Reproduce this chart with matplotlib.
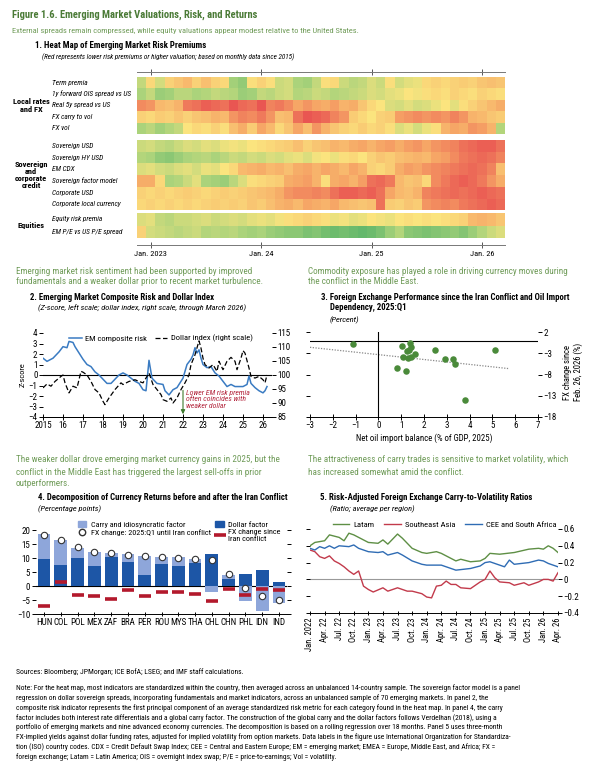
import numpy as np
import matplotlib
matplotlib.use('Agg')
import matplotlib.pyplot as plt
from matplotlib import font_manager as fm
from matplotlib.colors import LinearSegmentedColormap
from matplotlib.lines import Line2D
from matplotlib.patches import Patch

#%% data

# panel 1: heat map, monthly Dec 2022 .. Mar 2026 (40 months); + = red, - = green
hm_start_year, hm_start_month, hm_n = 2022, 12, 40
hm_tick_labels = ['Jan. 2023', 'Jan. 24', 'Jan. 25', 'Jan. 26']

term_premia = [-0.7, 0.2, -0.5, 0.3, 0.5, 0.7, 0.3, 0.6, 0.3, 0.2, -1.1, -1.3, 0.1, 0.3, 0.1, -0.6, -0.5, -1.0, -1.1, -0.7,
               0.1, 0.2, -0.6, -0.8, -0.7, -0.4, -0.6, 0.1, -0.5, -0.3, -0.2, 0.2, 0.3, 0.2, 0.3, 0.4, 0.3, 0.5, 0.6, 0.5]
ois_spread = [-1.0, -0.7, -1.2, -1.1, -0.8, -0.8, -1.0, -0.9, -0.7, -0.8, -0.9, -1.2, -1.1, -0.7, -0.8, -0.6, -0.5, -0.9, -0.8, -0.6,
              -0.7, -0.9, -0.8, -0.7, -0.6, -0.4, -0.5, -0.3, -0.2, 0.0, -0.1, 0.1, 0.2, 0.1, 0.3, 0.2, 0.1, 0.3, 0.2, 0.1]
real_5y = [1.3, 1.2, 0.7, 0.6, 0.8, 1.5, 1.6, 1.8, 1.7, 1.6, 1.9, 1.7, 1.6, 1.9, 1.4, 1.5, 1.3, 1.0, 1.2, 1.0,
           0.9, 1.1, 0.8, 0.9, 0.5, 0.2, 0.0, -0.4, -0.5, -0.3, -0.5, -0.4, -0.2, 0.0, -0.3, 0.1, 0.3, 0.5, 0.7, 0.9]
fx_carry_vol = [0.3, 0.2, 0.4, 0.3, 0.5, 0.3, 0.5, 0.6, 0.8, 0.7, 1.2, 1.4, 1.3, 1.5, 1.2, 0.6, 0.7, 1.6, 1.9, 1.8,
                1.7, 1.4, 1.2, 0.4, 0.2, 0.0, 0.3, 0.4, 1.1, 1.2, 1.3, 1.2, 1.3, 1.2, 1.4, 1.2, 0.8, 0.7, 0.5, 0.4]
fx_vol = [-1.0, -0.8, -1.1, -0.9, -0.7, 0.0, 0.2, 0.1, 0.3, 0.1, 0.6, 0.9, 0.4, 1.0, 0.7, 0.2, 0.5, 1.0, 0.6, 1.2,
          0.8, 0.5, 0.3, 0.2, 0.4, 0.2, 0.3, 0.1, -0.4, -0.2, -0.5, -0.2, 0.1, 0.8, 1.0, 0.9, 1.2, 1.1, 0.8, -0.9]
sov_usd = [-0.6, -0.5, -0.7, -0.8, -0.6, -0.4, -0.5, -0.3, -0.4, -0.2, -0.1, -0.2, 0.0, 0.1, 0.2, 0.3, 0.4, 0.6, 0.3, 0.5,
           0.6, 0.8, 0.7, 0.9, 1.0, 0.8, 1.0, 1.1, 0.9, 1.1, 1.2, 1.0, 1.2, 1.3, 1.4, 1.6, 1.7, 1.8, 1.8, 1.6]
sov_hy = [-0.9, -1.0, -1.3, -1.4, -1.2, -1.0, -0.9, -0.8, -1.0, -0.8, -0.6, -0.7, -0.5, -0.6, -0.4, -0.5, -0.3, -0.2, -0.4, -0.1,
          0.0, -0.2, 0.1, 0.2, 0.0, 0.3, 0.5, 0.4, 0.6, 0.7, 0.8, 0.7, 1.0, 1.1, 1.3, 1.5, 1.6, 1.7, 1.6, 1.4]
em_cdx = [-0.4, -0.3, -0.5, -0.6, -0.4, -0.3, -0.5, -0.2, -0.3, 0.0, 0.2, 0.7, 0.8, 0.9, 0.7, 0.8, 0.6, 0.9, 1.0, 0.8,
          1.0, 0.9, 0.7, 1.0, 0.8, 0.3, 0.2, 0.4, 0.9, 1.1, 1.0, 1.2, 1.3, 1.4, 1.5, 1.6, 1.7, 1.6, 1.4, 0.6]
sov_factor = [0.9, 0.9, 0.2, -1.0, -0.9, -0.6, -0.3, -1.0, -1.1, -1.2, -0.8, -0.4, 0.1, 0.2, 0.3, 0.4, 0.9, 1.0, 1.1, 0.8,
              0.1, 0.9, 1.0, 0.8, 1.1, 1.6, 1.7, 1.5, 0.7, 0.5, 0.6, 0.2, 1.3, 1.5, 1.7, 1.8, 1.7, 1.5, 1.2, 0.9]
corp_usd = [0.3, 0.2, 0.3, 0.2, 0.3, 0.4, 0.3, 0.2, 0.3, 0.4, 0.3, 0.4, 0.5, 0.6, 0.7, 0.9, 1.2, 1.3, 1.3, 1.4,
            1.3, 1.6, 1.8, 1.8, 1.7, 1.8, 1.6, 1.0, 0.7, 0.6, 0.8, 1.4, 1.5, 1.6, 1.7, 1.6, 1.7, 1.8, 1.7, 1.6]
corp_local = [0.2, 0.3, 0.2, 0.3, 0.2, 0.3, 0.2, 0.3, 0.4, 0.3, 0.4, 0.3, 0.5, 0.4, 0.6, 0.8, 0.9, 0.7, 1.0, 0.9,
              0.8, 1.0, 0.7, 0.6, 0.5, 0.6, 1.6, 0.4, 0.3, 0.5, 0.4, 1.2, 1.3, 1.4, 1.3, 1.5, 1.6, 1.7, 1.8, 1.7]
equity_rp = [-0.4, -0.3, -0.7, -0.8, -0.6, -0.6, -0.5, -0.4, -0.6, -0.5, -0.4, -0.5, -0.3, -0.2, -0.3, -0.1, 0.1, 0.2, 0.3, 0.2,
             0.1, -0.2, -0.1, -0.3, -0.2, 0.0, -0.1, -0.2, 0.0, 0.1, 0.0, 0.1, 0.0, 0.1, 0.2, 0.3, 0.7, 0.8, 0.7, 0.5]
pe_spread = [0.3, -0.5, -0.6, -0.7, -0.8, -0.7, -0.6, -0.9, -0.8, -0.9, -0.8, -1.0, -1.1, -1.0, -1.2, -1.3, -1.4, -1.4, -1.6, -1.5,
             -1.7, -1.8, -1.7, -1.8, -1.9, -1.8, -1.6, -1.2, -0.9, -1.4, -1.5, -1.6, -1.5, -1.4, -1.3, -1.5, -1.2, -0.9, -0.6, -0.4]

grp_local = ['Term premia', '1y forward OIS spread vs US', 'Real 5y spread vs US', 'FX carry to vol', 'FX vol']
grp_credit = ['Sovereign USD', 'Sovereign HY USD', 'EM CDX', 'Sovereign factor model', 'Corporate USD',
              'Corporate local currency']
grp_equity = ['Equity risk premia', 'EM P/E vs US P/E spread']

# panel 2
em_year = [2015.0, 2015.2, 2015.5, 2015.8, 2016.0, 2016.2, 2016.3, 2016.5, 2016.6, 2016.8,
           2017.0, 2017.2, 2017.4, 2017.6, 2017.8, 2018.0, 2018.2, 2018.4, 2018.6, 2018.8,
           2019.0, 2019.2, 2019.4, 2019.6, 2019.8, 2020.0, 2020.15, 2020.3, 2020.45, 2020.7,
           2021.0, 2021.1, 2021.3, 2021.5, 2021.7, 2022.0, 2022.2, 2022.4, 2022.5, 2022.6, 2022.7, 2022.8, 2022.9,
           2023.0, 2023.2, 2023.4, 2023.6, 2023.8, 2024.0, 2024.2, 2024.4, 2024.6, 2024.8,
           2025.0, 2025.2, 2025.3, 2025.4, 2025.6, 2025.8, 2026.0, 2026.1, 2026.2]
em_risk = [1.6, 1.3, 1.6, 2.2, 2.7, 2.6, 3.2, 3.1, 2.7, 2.1,
           1.5, 1.0, 0.8, 0.3, 0.0, -0.4, -0.8, -0.8, -0.4, 0.0,
           0.2, 0.0, -0.3, -0.6, -0.8, -1.4, -1.5, 1.4, -0.3, -0.8,
           -0.9, -1.5, -1.9, -1.4, -1.2, -0.3, 1.0, 1.5, 1.9, 2.6, 2.1, 2.4, 1.6,
           1.0, 0.7, 0.8, 0.2, -0.1, -0.6, -1.1, -0.9, -1.1, -1.1,
           -1.1, -0.9, -0.1, -0.8, -1.2, -1.5, -1.7, -1.5, -1.1]
dollar_year = [2015.0, 2015.2, 2015.4, 2015.6, 2015.9, 2016.0, 2016.1, 2016.3, 2016.5, 2016.7, 2016.9,
               2017.0, 2017.2, 2017.4, 2017.6, 2017.8, 2018.0, 2018.1, 2018.3, 2018.6, 2018.9,
               2019.0, 2019.3, 2019.6, 2019.8, 2020.0, 2020.2, 2020.3, 2020.5, 2020.7, 2020.9,
               2021.0, 2021.2, 2021.4, 2021.5, 2021.7, 2021.9, 2022.1, 2022.3, 2022.4, 2022.6, 2022.8, 2022.9,
               2023.0, 2023.1, 2023.3, 2023.5, 2023.7, 2023.8, 2024.0, 2024.2, 2024.4, 2024.6, 2024.7, 2024.9,
               2025.0, 2025.1, 2025.3, 2025.4, 2025.6, 2025.8, 2026.0, 2026.1, 2026.2]
dollar_index = [95.4, 96.8, 96.0, 97.7, 99.5, 100.0, 97.2, 93.6, 96.0, 95.4, 101.3,
                101.0, 100.0, 97.7, 94.8, 93.6, 90.6, 89.4, 91.8, 94.8, 97.2,
                96.6, 97.7, 98.3, 97.7, 97.2, 99.5, 100.7, 96.6, 94.8, 93.0,
                91.2, 90.6, 91.8, 90.0, 91.8, 94.8, 97.2, 100.0, 103.7, 107.2, 112.2, 109.6,
                106.0, 103.7, 102.5, 103.7, 101.3, 104.9, 101.9, 104.9, 106.3, 104.9, 101.9, 106.0,
                108.7, 107.8, 102.5, 99.5, 98.9, 99.5, 98.3, 97.2, 100.0]

# panel 3
oil_balance = [-1.1, 1.05, 1.4, 1.45, 1.35, 1.25, 1.1, 1.3, 1.45, 1.6, 0.8, 1.2, 2.5, 2.9, 3.25, 3.35, 5.1, 3.8]
fx_since_conflict = [-0.9, -1.2, -0.6, -1.6, -2.2, -2.5, -3.8, -4.2, -3.9, -3.2, -6.4, -7.1, -2.2, -4.4, -4.4, -5.6, -2.3, -14.0]
trend_x = [-3.0, 5.7]
trend_y = [-1.6, -6.6]

# panel 4
countries = ['HUN', 'COL', 'POL', 'MEX', 'ZAF', 'BRA', 'PER', 'ROU', 'MYS', 'THA', 'CHL', 'CHN', 'PHL', 'IDN', 'IND']
dollar_factor = [9.7, 7.5, 9.9, 7.0, 10.2, 8.7, 4.0, 7.8, 7.0, 8.3, 11.5, 2.5, 4.3, 5.8, 1.3]
carry_factor = [8.8, 8.9, 3.8, 5.3, 1.5, 2.9, 6.7, 2.7, 3.2, 1.3, -2.3, 1.3, -5.2, -9.1, -6.2]
fx_before = [18.3, 16.3, 14.0, 12.2, 11.8, 11.2, 10.6, 10.4, 10.0, 9.7, 9.2, 4.2, -0.8, -3.4, -4.9]
fx_after = [-7.3, 1.3, -3.2, -3.4, -4.5, -1.6, -3.7, -2.0, -2.0, -2.9, -5.5, -1.0, -3.2, -1.0, -1.5]

# panel 5 (months since Jan. 2022)
latam_m = [0, 1, 3, 4, 6, 7, 8, 9, 12, 14, 15, 16, 18, 19, 21, 23, 24, 26, 27, 29, 30, 31, 33, 35, 36, 37, 39, 42, 45, 47,
           48, 49, 50, 51]
latam = [0.40, 0.44, 0.46, 0.53, 0.50, 0.46, 0.55, 0.53, 0.44, 0.43, 0.47, 0.42, 0.54, 0.49, 0.37, 0.32, 0.31, 0.33, 0.31,
         0.25, 0.22, 0.24, 0.21, 0.22, 0.25, 0.31, 0.30, 0.32, 0.36, 0.37, 0.36, 0.40, 0.37, 0.32]
sea_m = [0, 1, 2, 3, 4, 5, 6, 7, 8, 9, 10, 11, 12, 13, 15, 16, 17, 18, 20, 21, 23, 24, 25, 26, 27, 28, 29, 30, 31, 33, 34,
         35, 36, 37, 38, 39, 41, 42, 44, 45, 47, 48, 49, 50, 51]
sea = [0.35, 0.33, 0.27, 0.25, 0.28, 0.22, 0.19, 0.15, 0.10, 0.06, 0.10, -0.08, -0.12, -0.15, -0.10, -0.14, -0.12, -0.10,
       -0.14, -0.14, -0.17, -0.21, -0.22, -0.08, -0.07, -0.02, -0.06, -0.06, -0.10, -0.11, -0.07, -0.03, 0.00, 0.10, 0.02,
       -0.03, -0.04, -0.07, -0.04, -0.07, -0.03, 0.00, 0.00, -0.02, 0.08]
cee_m = [0, 1, 2, 3, 4, 5, 6, 8, 9, 10, 12, 14, 15, 16, 18, 19, 21, 23, 24, 27, 29, 30, 33, 35, 36, 37, 39, 40, 41, 42, 45,
         47, 48, 49, 50, 51]
cee = [0.37, 0.35, 0.39, 0.37, 0.40, 0.37, 0.40, 0.39, 0.41, 0.37, 0.33, 0.32, 0.33, 0.29, 0.32, 0.29, 0.22, 0.18, 0.17,
       0.17, 0.13, 0.11, 0.13, 0.16, 0.20, 0.21, 0.17, 0.15, 0.23, 0.18, 0.20, 0.23, 0.22, 0.19, 0.17, 0.15]
p5_tick_labels = ['Jan. 2022', 'Apr. 22', 'Jul. 22', 'Oct. 22', 'Jan. 23', 'Apr. 23', 'Jul. 23', 'Oct. 23', 'Jan. 24',
                  'Apr. 24', 'Jul. 24', 'Oct. 24', 'Jan. 25', 'Apr. 25', 'Jul. 25', 'Oct. 25', 'Jan. 26', 'Apr. 26']

#%% fonts / style

FONT, STRETCH = 'Liberation Sans', 'normal'
ttf = fm.fontManager.ttflist
pref = ['Roboto Condensed', 'Liberation Sans Narrow', 'Open Sans Condensed', 'Noto Sans Condensed']
found = [n for n in pref if any(f.name == n for f in ttf)]
if found:
    FONT = found[0]
else:
    cond = [f.name for f in ttf if str(f.stretch) in ('condensed', 'semi-condensed')]
    if cond:
        FONT, STRETCH = cond[0], 'condensed'

plt.rcParams.update({'font.family': [FONT, 'DejaVu Sans'], 'font.stretch': STRETCH,
                     'axes.linewidth': 0.7, 'xtick.major.width': 0.7, 'ytick.major.width': 0.7})

W, H = 602, 771
GREEN_T = '#4b7b37'
GREEN_S = '#6f9b58'
TITLE_FS = 6.3     # panel titles
SUB_FS = 6.0       # panel italic subtitles
LEAD_FS = 6.6      # green lead-in sentences
fig = plt.figure(figsize=(W / 100, H / 100), dpi=100)


def rect(x0, y0, x1, y1):
    return [x0 / W, 1 - y1 / H, (x1 - x0) / W, (y1 - y0) / H]


def ftxt(x, y, s, **kw):
    kw.setdefault('va', 'center')
    fig.text(x / W, 1 - y / H, s, **kw)


ftxt(12, 15, 'Figure 1.6. Emerging Market Valuations, Risk, and Returns', fontsize=7.6, weight='bold', color=GREEN_T)
ftxt(12, 31, 'External spreads remain compressed, while equity valuations appear modest relative to the United States.',
     fontsize=6.0, color=GREEN_S)

#%% panel 1 heat map

ftxt(35, 46, '1. Heat Map of Emerging Market Risk Premiums', fontsize=6.4, weight='bold')
ftxt(42, 57, '(Red represents lower risk premiums or higher valuation; based on monthly data since 2015)',
     fontsize=5.1, style='italic')

cmap = LinearSegmentedColormap.from_list('hm', ['#5db56a', '#abd37b', '#fbe47e', '#f6a766', '#e84e50'])
ax1 = fig.add_axes(rect(137, 72, 505, 245))
ax1.set_xlim(0, hm_n)
ax1.set_ylim(245, 72)
xe = np.arange(hm_n + 1)
groups = [([term_premia, ois_spread, real_5y, fx_carry_vol, fx_vol], grp_local, 77, 11.4, 'Local rates\nand FX'),
          ([sov_usd, sov_hy, em_cdx, sov_factor, corp_usd, corp_local], grp_credit, 140, 11.7,
           'Sovereign\nand\ncorporate\ncredit'),
          ([equity_rp, pe_spread], grp_equity, 213, 12.5, 'Equities')]
for rows, names, top, h, glabel in groups:
    ye = top + h * np.arange(len(rows) + 1)
    ax1.pcolormesh(xe, ye, np.array(rows), cmap=cmap, vmin=-2, vmax=2, shading='flat')
    for i, nm in enumerate(names):
        ftxt(52, top + h * (i + 0.5), nm, fontsize=5.3, style='italic')
    ftxt(31, top + h * len(rows) / 2, glabel, fontsize=6, weight='bold', ha='center', linespacing=1.0)

months = (hm_start_month - 1 + np.arange(hm_n)) % 12 + 1
jan_pos = np.where(months == 1)[0] + 0.5
ax1.set_xticks(jan_pos)
ax1.set_xticklabels(hm_tick_labels, fontsize=6)
ax1.set_yticks([])
ax1.tick_params(axis='x', top=True, direction='inout', length=4, color='#555555', pad=2)
for s in ['left', 'right']:
    ax1.spines[s].set_visible(False)
for s in ['top', 'bottom']:
    ax1.spines[s].set_color('#777777')

#%% panel 2

ftxt(16, 271, 'Emerging market risk sentiment had been supported by improved', fontsize=LEAD_FS, color=GREEN_S)
ftxt(16, 282, 'fundamentals and a weaker dollar prior to recent market turbulence.', fontsize=LEAD_FS, color=GREEN_S)
ftxt(30, 297, '2. Emerging Market Composite Risk and Dollar Index', fontsize=TITLE_FS, weight='bold')
ftxt(38, 308, '(Z-score, left scale; dollar index, right scale, through March 2026)', fontsize=SUB_FS, style='italic')

ax2 = fig.add_axes(rect(43, 333, 272, 417))
ax2.plot(em_year, em_risk, color='#3a7bc2', lw=1.1, zorder=3)
ax2.axhline(0, color='black', lw=0.8)
ax2.set_xlim(2015, 2026.45)
ax2.set_ylim(-4, 4)
ax2.set_yticks(range(-4, 5))
ax2.set_xticks(range(2015, 2027))
ax2.set_xticklabels(['2015'] + [str(y)[2:] for y in range(2016, 2027)], fontsize=6.5)
ax2.tick_params(axis='y', direction='out', length=3, labelsize=6.5, pad=1)
ax2.tick_params(axis='x', direction='inout', length=4, pad=1)
ax2.set_ylabel('Z-score', fontsize=6, labelpad=2)
ax2r = ax2.twinx()
ax2r.plot(dollar_year, dollar_index, color='black', lw=0.9, ls=(0, (4, 2)))
ax2r.set_ylim(85, 115)
ax2r.set_yticks(range(85, 116, 5))
ax2r.tick_params(axis='y', direction='out', length=3, labelsize=6.5, pad=1)
for a in (ax2, ax2r):
    for s in ['left', 'right', 'top']:
        a.spines[s].set_visible(False)
ax2.annotate('', xy=(2022.0, -4), xytext=(2022.0, -1.2),
             arrowprops=dict(arrowstyle='-|>', color='#3e7a2e', lw=0.8, mutation_scale=6))
ax2.text(2022.15, -1.45, 'Lower EM risk premia\noften coincides with\nweaker dollar', fontsize=5.6,
         style='italic', color='#b3253c', va='top', linespacing=1.05)
ax2.legend([Line2D([], [], color='#3a7bc2', lw=1.1), Line2D([], [], color='black', lw=0.9, ls=(0, (4, 2)))],
           ['EM composite risk', 'Dollar index (right scale)'], ncol=2, frameon=False, fontsize=6.1,
           loc='upper left', bbox_to_anchor=(0.08, 1.07), handlelength=1.5, columnspacing=0.9, handletextpad=0.4)

#%% panel 3

ftxt(308, 271, 'Commodity exposure has played a role in driving currency moves during', fontsize=LEAD_FS, color=GREEN_S)
ftxt(308, 282, 'the conflict in the Middle East.', fontsize=LEAD_FS, color=GREEN_S)
ftxt(321, 297, '3. Foreign Exchange Performance since the Iran Conflict and Oil Import', fontsize=TITLE_FS, weight='bold')
ftxt(330, 308, 'Dependency, 2025:Q1', fontsize=TITLE_FS, weight='bold')
ftxt(330, 320, '(Percent)', fontsize=SUB_FS, style='italic')

ax3 = fig.add_axes(rect(310, 332, 538, 417))
ax3.scatter(oil_balance, fx_since_conflict, s=22, color='#4a8a3a', zorder=3, linewidths=0)
ax3.plot(trend_x, trend_y, color='#888888', ls=(0, (1, 1.2)), lw=0.9)
ax3.axhline(0, color='black', lw=0.8)
ax3.axvline(0, color='black', lw=0.8)
ax3.set_xlim(-3, 7)
ax3.set_ylim(-18, 2)
ax3.set_xticks(range(-3, 8))
ax3.set_yticks([2, -3, -8, -13, -18])
ax3.tick_params(axis='y', left=True, right=True, labelleft=False, labelright=True, direction='out', length=3,
                labelsize=6.5, pad=1)
ax3.tick_params(axis='x', direction='inout', length=4, labelsize=6.5, pad=1)
for s in ['left', 'right', 'top']:
    ax3.spines[s].set_visible(False)
ax3.set_xlabel('Net oil import balance (% of GDP, 2025)', fontsize=6.3, labelpad=2)
ftxt(573, 372, 'FX change since\nFeb. 26, 2026 (%)', fontsize=6.2, rotation=90, ha='center', linespacing=1.1)

#%% panel 4

ftxt(16, 460, 'The weaker dollar drove emerging market currency gains in 2025, but the', fontsize=LEAD_FS, color=GREEN_S)
ftxt(16, 472, 'conflict in the Middle East has triggered the largest sell-offs in prior', fontsize=LEAD_FS, color=GREEN_S)
ftxt(16, 484, 'outperformers.', fontsize=LEAD_FS, color=GREEN_S)
ftxt(38, 498, '4. Decomposition of Currency Returns before and after the Iran Conflict', fontsize=TITLE_FS, weight='bold')
ftxt(38, 509, '(Percentage points)', fontsize=SUB_FS, style='italic')

DARK, LIGHT, RED = '#1d56a6', '#8ea6da', '#b3192c'
ax4 = fig.add_axes(rect(35.6, 530, 287.4, 614))
xc = np.arange(len(countries))
dol = np.array(dollar_factor)
car = np.array(carry_factor)
ax4.bar(xc, dol, width=0.76, color=DARK, zorder=2)
ax4.bar(xc, car, bottom=np.where(car > 0, dol, 0), width=0.76, color=LIGHT, zorder=2)
ax4.plot(xc, fx_after, ls='none', marker='_', ms=8, mew=2.6, color=RED, zorder=3)
ax4.plot(xc, fx_before, ls='none', marker='o', ms=4.6, mfc='white', mec='#333333', mew=0.8, zorder=4)
ax4.axhline(0, color='black', lw=0.8, zorder=1)
ax4.set_xlim(-0.5, len(countries) - 0.5)
ax4.set_ylim(-10, 20)
ax4.set_xticks(xc)
ax4.set_xticklabels(countries, fontsize=6.5)
ax4.set_yticks(range(-10, 21, 5))
ax4.tick_params(axis='y', left=True, right=True, direction='out', length=3, labelsize=6.5, pad=1)
ax4.tick_params(axis='x', direction='inout', length=3, pad=1.5)
for s in ['left', 'right', 'top']:
    ax4.spines[s].set_visible(False)
ax4.legend([Patch(color=LIGHT), Line2D([], [], ls='none', marker='o', ms=4.6, mfc='white', mec='#333333'),
            Patch(color=DARK), Line2D([], [], ls='none', marker='_', ms=8, mew=2.6, color=RED)],
           ['Carry and idiosyncratic factor', 'FX change: 2025:Q1 until Iran conflict', 'Dollar factor',
            'FX change since\nIran conflict'], ncol=2, frameon=False, fontsize=5.9, loc='upper left',
           bbox_to_anchor=(0.14, 1.2), handlelength=1.0, handleheight=0.8, columnspacing=0.6,
           handletextpad=0.5, labelspacing=0.15)

#%% panel 5

ftxt(308, 460, 'The attractiveness of carry trades is sensitive to market volatility, which', fontsize=LEAD_FS, color=GREEN_S)
ftxt(308, 472, 'has increased somewhat amid the conflict.', fontsize=LEAD_FS, color=GREEN_S)
ftxt(320, 498, '5. Risk-Adjusted Foreign Exchange Carry-to-Volatility Ratios', fontsize=TITLE_FS, weight='bold')
ftxt(330, 509, '(Ratio; average per region)', fontsize=SUB_FS, style='italic')

C_LAT, C_SEA, C_CEE = '#5e8f45', '#c23a4b', '#2f6cb4'
ax5 = fig.add_axes(rect(310, 529, 558, 613))
ax5.plot(latam_m, latam, color=C_LAT, lw=1.0, label='Latam')
ax5.plot(sea_m, sea, color=C_SEA, lw=1.0, label='Southeast Asia')
ax5.plot(cee_m, cee, color=C_CEE, lw=1.0, label='CEE and South Africa')
ax5.axhline(0, color='#999999', lw=0.8, zorder=0)
ax5.set_xlim(0, 51)
ax5.set_ylim(-0.4, 0.6)
ax5.set_xticks(range(0, 52, 3))
ax5.set_xticklabels(p5_tick_labels, rotation=90, fontsize=6.2)
ax5.set_yticks([0.6, 0.4, 0.2, 0, -0.2, -0.4])
ax5.set_yticklabels(['0.6', '0.4', '0.2', '0', '\u22120.2', '\u22120.4'])
ax5.tick_params(axis='y', left=True, right=True, labelleft=False, labelright=True, direction='out', length=3,
                labelsize=6.5, pad=1)
ax5.tick_params(axis='x', direction='inout', length=3, pad=1.5)
for s in ['left', 'right', 'top']:
    ax5.spines[s].set_visible(False)
ax5.legend(ncol=3, frameon=False, fontsize=6.1, loc='upper left', bbox_to_anchor=(0.06, 1.18),
           handlelength=2.0, columnspacing=1.1, handletextpad=0.5)

#%% sources and note

ftxt(16, 672, 'Sources: Bloomberg; JPMorgan; ICE BofA; LSEG; and IMF staff calculations.', fontsize=5.5)
note_lines = [
    'Note: For the heat map, most indicators are standardized within the country, then averaged across an unbalanced 14-country sample. The sovereign factor model is a panel',
    'regression on dollar sovereign spreads, incorporating fundamentals and market indicators, across an unbalanced sample of 70 emerging markets. In panel 2, the',
    'composite risk indicator represents the first principal component of an average standardized risk metric for each category found in the heat map. In panel 4, the carry',
    'factor includes both interest rate differentials and a global carry factor. The construction of the global carry and the dollar factors follows Verdelhan (2018), using a',
    'portfolio of emerging markets and nine advanced economy currencies. The decomposition is based on a rolling regression over 18 months. Panel 5 uses three-month',
    'FX-implied yields against dollar funding rates, adjusted for implied volatility from option markets. Data labels in the figure use International Organization for Standardiza-',
    'tion (ISO) country codes. CDX = Credit Default Swap Index; CEE = Central and Eastern Europe; EM = emerging market; EMEA = Europe, Middle East, and Africa; FX =',
    'foreign exchange; Latam = Latin America; OIS = overnight index swap; P/E = price-to-earnings; Vol = volatility.',
]
for i, ln in enumerate(note_lines):
    ftxt(16, 688 + 9.9 * i, ln, fontsize=5.4)

fig.savefig('out.png', dpi=100)
